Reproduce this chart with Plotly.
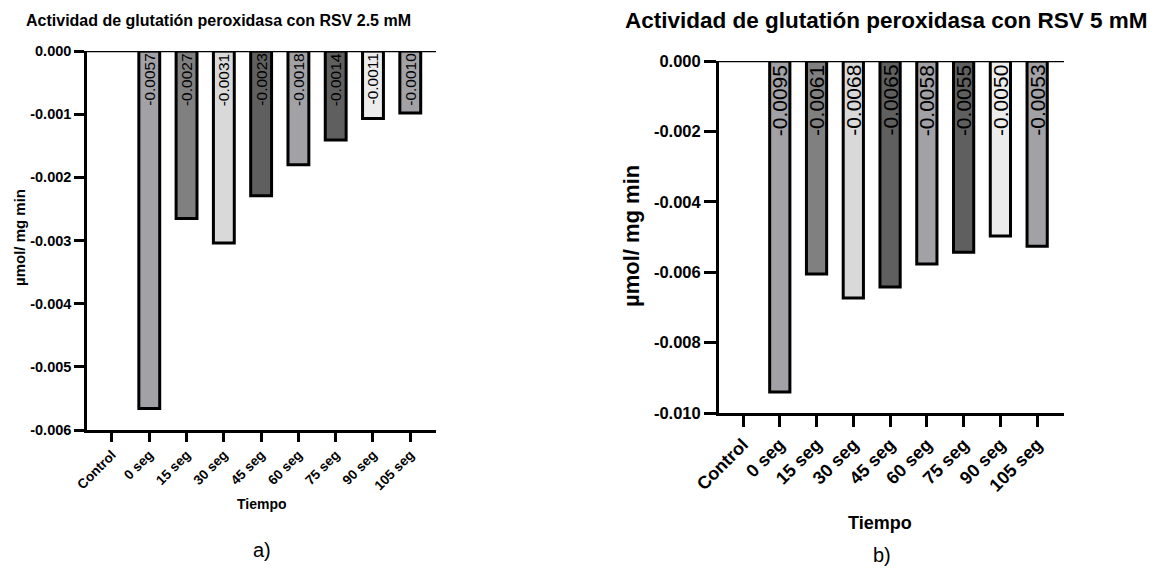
import plotly.graph_objects as go

# categories shared by both panels
categorias = ["Control", "0 seg", "15 seg", "30 seg", "45 seg", "60 seg", "75 seg", "90 seg", "105 seg"]

# a) RSV 2.5 mM  (bar heights, labels as printed)
valores_a = [None, -0.00566, -0.00265, -0.00304, -0.00229, -0.00180, -0.00141, -0.00107, -0.00098]
etiquetas_a = ["", "-0.0057", "-0.0027", "-0.0031", "-0.0023", "-0.0018", "-0.0014", "-0.0011", "-0.0010"]

# b) RSV 5 mM
valores_b = [None, -0.00940, -0.00605, -0.00673, -0.00642, -0.00577, -0.00543, -0.00497, -0.00526]
etiquetas_b = ["", "-0.0095", "-0.0061", "-0.0068", "-0.0065", "-0.0058", "-0.0055", "-0.0050", "-0.0053"]

# y tick values / labels
yticks_a = [0, -0.001, -0.002, -0.003, -0.004, -0.005, -0.006]
ytext_a = ["0.000", "-0.001", "-0.002", "-0.003", "-0.004", "-0.005", "-0.006"]
yticks_b = [0, -0.002, -0.004, -0.006, -0.008, -0.010]
ytext_b = ["0.000", "-0.002", "-0.004", "-0.006", "-0.008", "-0.010"]

# grey shades of the bars (same pattern in both panels)
grises = ["#ffffff", "#a1a1a6", "#808080", "#d9d9d9", "#5f5f5f", "#a1a1a6", "#5f5f5f", "#ececec", "#a1a1a6"]

FONT = "Liberation Sans, Arial, sans-serif"
W, H = 1156, 569


def px(x):
    return x / W


def py(y):
    return 1 - y / H


fig = go.Figure()

fig.add_trace(go.Bar(
    x=categorias, y=valores_a, xaxis="x", yaxis="y",
    marker=dict(color=grises, line=dict(color="black", width=3)),
    width=0.56, showlegend=False, hoverinfo="skip",
))
fig.add_trace(go.Bar(
    x=categorias, y=valores_b, xaxis="x2", yaxis="y2",
    marker=dict(color=grises, line=dict(color="black", width=3)),
    width=0.55, showlegend=False, hoverinfo="skip",
))

# no automargin, otherwise the template pushes the plot area around
ejes = dict(showline=True, linecolor="black", ticks="outside", tickcolor="black",
            showgrid=False, zeroline=False, automargin=False)

fig.update_layout(
    width=W, height=H,
    margin=dict(l=0, r=0, t=0, b=0, pad=0),
    plot_bgcolor="white", paper_bgcolor="white",
    font=dict(family=FONT, color="black"),
    xaxis=dict(ejes, domain=[px(87), px(436)], anchor="y", type="category",
               range=[-0.67, 8.69], linewidth=2.5, tickwidth=2.5, ticklen=9,
               tickangle=-45, tickfont=dict(size=13.5, weight="bold")),
    yaxis=dict(ejes, domain=[py(430), py(51)], anchor="x", range=[-0.006, 0],
               tickvals=yticks_a, ticktext=ytext_a, linewidth=2.5, tickwidth=2.5,
               ticklen=10, tickfont=dict(size=14.5, weight="bold")),
    xaxis2=dict(ejes, domain=[px(719), px(1064)], anchor="y2", type="category",
                range=[-0.653, 8.73], linewidth=3, tickwidth=3, ticklen=11,
                tickangle=-45, tickfont=dict(size=18, weight="bold")),
    yaxis2=dict(ejes, domain=[py(413), py(61)], anchor="x2", range=[-0.010, 0],
                tickvals=yticks_b, ticktext=ytext_b, linewidth=3, tickwidth=3,
                ticklen=12, tickfont=dict(size=16.5, weight="bold")),
)

# line along zero at the top of each panel
for xr, yr in (("x domain", "y"), ("x2 domain", "y2")):
    fig.add_shape(type="line", xref=xr, yref=yr, x0=0, x1=1, y0=0, y1=0,
                  line=dict(color="black", width=2.5))

# value labels written upward inside the bars
for cat, txt in zip(categorias, etiquetas_a):
    if txt:
        fig.add_annotation(x=cat, y=0, xref="x", yref="y", text=txt, showarrow=False,
                           textangle=-90, yanchor="top", xanchor="center", yshift=0,
                           font=dict(size=15.5, color="black"))
for cat, txt in zip(categorias, etiquetas_b):
    if txt:
        fig.add_annotation(x=cat, y=0, xref="x2", yref="y2", text=txt, showarrow=False,
                           textangle=-90, yanchor="top", xanchor="center", yshift=-2,
                           font=dict(size=21, color="black"))

# titles, axis titles and panel letters (pixel positions of the original)
textos = [
    (218, 21, "Actividad de glutatión peroxidasa con RSV 2.5 mM", 16, True, 0),
    (886, 21, "Actividad de glutatión peroxidasa con RSV 5 mM", 22.5, True, 0),
    (262, 504, "Tiempo", 14, True, 0),
    (880, 523, "Tiempo", 18, True, 0),
    (19, 238, "µmol/ mg min", 15, True, -90),
    (631, 236, "µmol/ mg min", 22, True, -90),
    (262, 550, "a)", 20, False, 0),
    (882, 555, "b)", 20, False, 0),
]
for x, y, txt, size, bold, ang in textos:
    fig.add_annotation(x=px(x), y=py(y), xref="paper", yref="paper", text=txt,
                       showarrow=False, xanchor="center", yanchor="middle", textangle=ang,
                       font=dict(size=size, weight="bold" if bold else "normal"))

fig.write_html("out.html", config={"displayModeBar": False},
               post_script="document.body.style.margin='0';document.body.style.overflow='hidden';")
